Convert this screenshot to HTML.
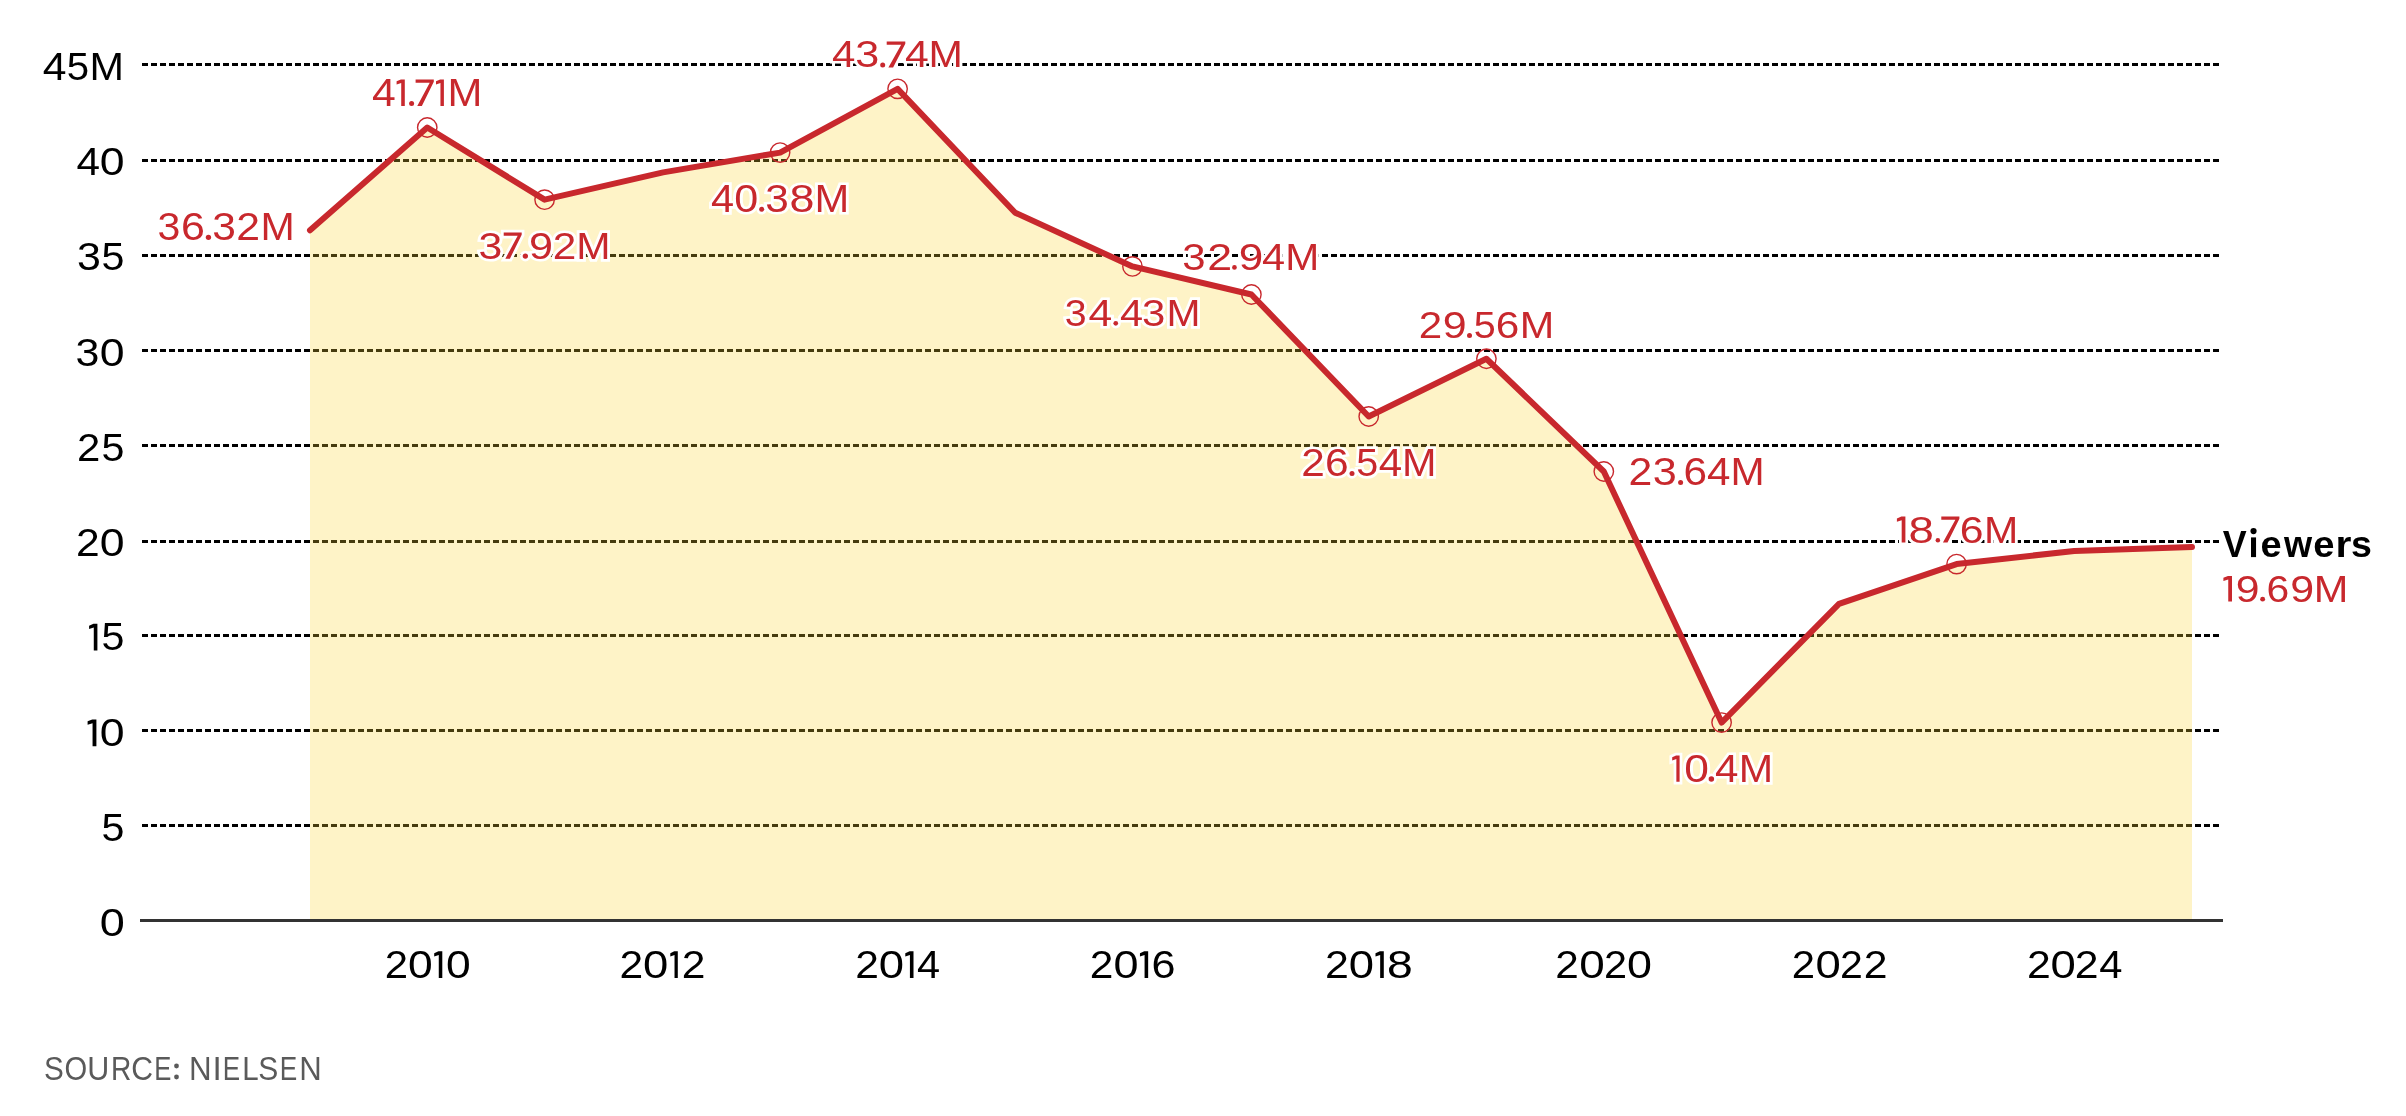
<!DOCTYPE html><html><head><meta charset="utf-8"><title>Chart</title><style>html,body{margin:0;padding:0;background:#fff;}body{width:2406px;height:1116px;overflow:hidden;}svg{display:block;will-change:transform;font-family:"Liberation Sans",sans-serif;}</style></head><body>
<svg width="2406" height="1116" viewBox="0 0 2406 1116">
<rect width="2406" height="1116" fill="#fff"/>
<line x1="142" y1="64.5" x2="1201" y2="64.5" stroke="#000" stroke-width="3" stroke-dasharray="6 3"/>
<rect x="1204" y="63" width="7" height="3" fill="#000"/>
<line x1="1214" y1="64.5" x2="2219" y2="64.5" stroke="#000" stroke-width="3" stroke-dasharray="6 3"/>
<line x1="142" y1="160.5" x2="1201" y2="160.5" stroke="#000" stroke-width="3" stroke-dasharray="6 3"/>
<rect x="1204" y="159" width="7" height="3" fill="#000"/>
<line x1="1214" y1="160.5" x2="2219" y2="160.5" stroke="#000" stroke-width="3" stroke-dasharray="6 3"/>
<line x1="142" y1="255.5" x2="1201" y2="255.5" stroke="#000" stroke-width="3" stroke-dasharray="6 3"/>
<rect x="1204" y="254" width="7" height="3" fill="#000"/>
<line x1="1214" y1="255.5" x2="2219" y2="255.5" stroke="#000" stroke-width="3" stroke-dasharray="6 3"/>
<line x1="142" y1="350.5" x2="1201" y2="350.5" stroke="#000" stroke-width="3" stroke-dasharray="6 3"/>
<rect x="1204" y="349" width="7" height="3" fill="#000"/>
<line x1="1214" y1="350.5" x2="2219" y2="350.5" stroke="#000" stroke-width="3" stroke-dasharray="6 3"/>
<line x1="142" y1="445.5" x2="1201" y2="445.5" stroke="#000" stroke-width="3" stroke-dasharray="6 3"/>
<rect x="1204" y="444" width="7" height="3" fill="#000"/>
<line x1="1214" y1="445.5" x2="2219" y2="445.5" stroke="#000" stroke-width="3" stroke-dasharray="6 3"/>
<line x1="142" y1="541.5" x2="1201" y2="541.5" stroke="#000" stroke-width="3" stroke-dasharray="6 3"/>
<rect x="1204" y="540" width="7" height="3" fill="#000"/>
<line x1="1214" y1="541.5" x2="2219" y2="541.5" stroke="#000" stroke-width="3" stroke-dasharray="6 3"/>
<line x1="142" y1="635.5" x2="1201" y2="635.5" stroke="#000" stroke-width="3" stroke-dasharray="6 3"/>
<rect x="1204" y="634" width="7" height="3" fill="#000"/>
<line x1="1214" y1="635.5" x2="2219" y2="635.5" stroke="#000" stroke-width="3" stroke-dasharray="6 3"/>
<line x1="142" y1="730.5" x2="1201" y2="730.5" stroke="#000" stroke-width="3" stroke-dasharray="6 3"/>
<rect x="1204" y="729" width="7" height="3" fill="#000"/>
<line x1="1214" y1="730.5" x2="2219" y2="730.5" stroke="#000" stroke-width="3" stroke-dasharray="6 3"/>
<line x1="142" y1="825.5" x2="1201" y2="825.5" stroke="#000" stroke-width="3" stroke-dasharray="6 3"/>
<rect x="1204" y="824" width="7" height="3" fill="#000"/>
<line x1="1214" y1="825.5" x2="2219" y2="825.5" stroke="#000" stroke-width="3" stroke-dasharray="6 3"/>
<polygon points="310.0,919 310.00,230.20 427.25,127.50 544.60,199.65 663.10,172.40 780.10,152.60 897.60,88.85 1015.20,212.70 1132.45,266.45 1251.40,294.50 1368.70,416.50 1486.40,358.75 1603.80,471.50 1721.60,722.60 1839.00,603.80 1956.60,564.10 2074.20,550.90 2192.00,547.00 2192.0,919" fill="#fad437" fill-opacity="0.28"/>
<rect x="140" y="919" width="2083" height="3" fill="#333"/>
<polyline points="310.00,230.20 427.25,127.50 544.60,199.65 663.10,172.40 780.10,152.60 897.60,88.85 1015.20,212.70 1132.45,266.45 1251.40,294.50 1368.70,416.50 1486.40,358.75 1603.80,471.50 1721.60,722.60 1839.00,603.80 1956.60,564.10 2074.20,550.90 2192.00,547.00" fill="none" stroke="#c8282d" stroke-width="6" stroke-linejoin="round" stroke-linecap="round"/>
<circle cx="427.25" cy="127.50" r="9.7" fill="none" stroke="#c8282d" stroke-width="1.4"/>
<circle cx="544.60" cy="199.65" r="9.7" fill="none" stroke="#c8282d" stroke-width="1.4"/>
<circle cx="780.10" cy="152.60" r="9.7" fill="none" stroke="#c8282d" stroke-width="1.4"/>
<circle cx="897.60" cy="88.85" r="9.7" fill="none" stroke="#c8282d" stroke-width="1.4"/>
<circle cx="1132.45" cy="266.45" r="9.7" fill="none" stroke="#c8282d" stroke-width="1.4"/>
<circle cx="1251.40" cy="294.50" r="9.7" fill="none" stroke="#c8282d" stroke-width="1.4"/>
<circle cx="1368.70" cy="416.50" r="9.7" fill="none" stroke="#c8282d" stroke-width="1.4"/>
<circle cx="1486.40" cy="358.75" r="9.7" fill="none" stroke="#c8282d" stroke-width="1.4"/>
<circle cx="1603.80" cy="471.50" r="9.7" fill="none" stroke="#c8282d" stroke-width="1.4"/>
<circle cx="1721.60" cy="722.60" r="9.7" fill="none" stroke="#c8282d" stroke-width="1.4"/>
<circle cx="1956.60" cy="564.10" r="9.7" fill="none" stroke="#c8282d" stroke-width="1.4"/>
<g><text transform="matrix(1.0805 0 0 1.0119 157.59 239.92)" font-size="38" font-weight="400" fill="#fff" stroke="#fff" stroke-width="5.26">3</text>
<text transform="matrix(1.1308 0 0 1.0119 181.00 239.92)" font-size="38" font-weight="400" fill="#fff" stroke="#fff" stroke-width="5.13">6</text>
<circle cx="208.45" cy="237.35" r="2.65" fill="#fff" stroke="#fff" stroke-width="5.5"/>
<text transform="matrix(1.1194 0 0 1.0119 212.33 239.92)" font-size="38" font-weight="400" fill="#fff" stroke="#fff" stroke-width="5.16">3</text>
<text transform="matrix(1.1268 0 0 1.0119 236.14 239.92)" font-size="38" font-weight="400" fill="#fff" stroke="#fff" stroke-width="5.14">2</text>
<text transform="matrix(1.0822 0 0 1.0119 260.42 239.92)" font-size="38" font-weight="400" fill="#fff" stroke="#fff" stroke-width="5.25">M</text>
<text transform="matrix(1.1236 0 0 1.0187 371.91 105.90)" font-size="38" font-weight="400" fill="#fff" stroke="#fff" stroke-width="5.13">4</text>
<path d="M396.60 81.33 L400.91 79.40 L404.80 79.40 L404.80 105.90 L401.22 105.90 L401.22 83.08 L396.60 84.62Z" fill="#fff" stroke="#fff" stroke-width="5.5"/>
<circle cx="411.60" cy="103.40" r="2.50" fill="#fff" stroke="#fff" stroke-width="5.5"/>
<path d="M415.60 79.40 L433.80 79.40 L433.80 81.68 L421.86 105.90 L417.26 105.90 L429.74 82.66 L415.60 82.66Z" fill="#fff" stroke="#fff" stroke-width="5.5"/>
<path d="M436.00 81.33 L440.16 79.40 L443.90 79.40 L443.90 105.90 L440.46 105.90 L440.46 83.08 L436.00 84.62Z" fill="#fff" stroke="#fff" stroke-width="5.5"/>
<text transform="matrix(1.1019 0 0 1.0187 447.56 105.90)" font-size="38" font-weight="400" fill="#fff" stroke="#fff" stroke-width="5.19">M</text>
<text transform="matrix(1.1250 0 0 0.9933 478.62 258.62)" font-size="38" font-weight="400" fill="#fff" stroke="#fff" stroke-width="5.19">3</text>
<path d="M503.70 232.60 L521.70 232.60 L521.70 234.84 L509.89 258.70 L505.34 258.70 L517.69 235.81 L503.70 235.81Z" fill="#fff" stroke="#fff" stroke-width="5.5"/>
<circle cx="525.35" cy="256.05" r="2.65" fill="#fff" stroke="#fff" stroke-width="5.5"/>
<text transform="matrix(1.1358 0 0 0.9933 529.06 258.62)" font-size="38" font-weight="400" fill="#fff" stroke="#fff" stroke-width="5.17">9</text>
<text transform="matrix(1.1152 0 0 0.9933 552.66 258.62)" font-size="38" font-weight="400" fill="#fff" stroke="#fff" stroke-width="5.22">2</text>
<text transform="matrix(1.0822 0 0 0.9933 576.32 258.62)" font-size="38" font-weight="400" fill="#fff" stroke="#fff" stroke-width="5.30">M</text>
<text transform="matrix(1.0922 0 0 1.0007 711.04 211.62)" font-size="38" font-weight="400" fill="#fff" stroke="#fff" stroke-width="5.26">4</text>
<text transform="matrix(1.1353 0 0 1.0007 734.21 211.62)" font-size="38" font-weight="400" fill="#fff" stroke="#fff" stroke-width="5.15">0</text>
<circle cx="761.70" cy="209.20" r="2.50" fill="#fff" stroke="#fff" stroke-width="5.5"/>
<text transform="matrix(1.1139 0 0 1.0007 765.14 211.62)" font-size="38" font-weight="400" fill="#fff" stroke="#fff" stroke-width="5.20">3</text>
<text transform="matrix(1.1796 0 0 1.0007 789.43 211.62)" font-size="38" font-weight="400" fill="#fff" stroke="#fff" stroke-width="5.05">8</text>
<text transform="matrix(1.0980 0 0 1.0007 814.57 211.62)" font-size="38" font-weight="400" fill="#fff" stroke="#fff" stroke-width="5.24">M</text>
<text transform="matrix(1.1079 0 0 0.9896 831.93 67.42)" font-size="38" font-weight="400" fill="#fff" stroke="#fff" stroke-width="5.24">4</text>
<text transform="matrix(1.1362 0 0 0.9896 855.21 67.42)" font-size="38" font-weight="400" fill="#fff" stroke="#fff" stroke-width="5.17">3</text>
<circle cx="882.70" cy="65.00" r="2.50" fill="#fff" stroke="#fff" stroke-width="5.5"/>
<path d="M886.70 41.50 L905.30 41.50 L905.30 43.74 L893.10 67.50 L888.39 67.50 L901.15 44.70 L886.70 44.70Z" fill="#fff" stroke="#fff" stroke-width="5.5"/>
<text transform="matrix(1.1236 0 0 0.9896 905.01 67.42)" font-size="38" font-weight="400" fill="#fff" stroke="#fff" stroke-width="5.21">4</text>
<text transform="matrix(1.0862 0 0 0.9896 928.41 67.42)" font-size="38" font-weight="400" fill="#fff" stroke="#fff" stroke-width="5.30">M</text>
<text transform="matrix(1.0359 0 0 0.9933 1064.76 325.62)" font-size="38" font-weight="400" fill="#fff" stroke="#fff" stroke-width="5.42">3</text>
<text transform="matrix(1.1236 0 0 0.9933 1088.61 325.62)" font-size="38" font-weight="400" fill="#fff" stroke="#fff" stroke-width="5.20">4</text>
<circle cx="1115.75" cy="323.35" r="2.35" fill="#fff" stroke="#fff" stroke-width="5.5"/>
<text transform="matrix(1.0922 0 0 0.9933 1120.04 325.62)" font-size="38" font-weight="400" fill="#fff" stroke="#fff" stroke-width="5.27">4</text>
<text transform="matrix(1.1027 0 0 0.9933 1142.06 325.62)" font-size="38" font-weight="400" fill="#fff" stroke="#fff" stroke-width="5.25">3</text>
<text transform="matrix(1.0743 0 0 0.9933 1166.54 325.62)" font-size="38" font-weight="400" fill="#fff" stroke="#fff" stroke-width="5.32">M</text>
<text transform="matrix(1.1027 0 0 0.9896 1182.16 269.72)" font-size="38" font-weight="400" fill="#fff" stroke="#fff" stroke-width="5.26">3</text>
<text transform="matrix(1.1788 0 0 0.9896 1207.14 269.72)" font-size="38" font-weight="400" fill="#fff" stroke="#fff" stroke-width="5.07">2</text>
<circle cx="1234.45" cy="267.45" r="2.35" fill="#fff" stroke="#fff" stroke-width="5.5"/>
<text transform="matrix(1.1587 0 0 0.9896 1238.82 269.72)" font-size="38" font-weight="400" fill="#fff" stroke="#fff" stroke-width="5.12">9</text>
<text transform="matrix(1.0922 0 0 0.9896 1262.04 269.72)" font-size="38" font-weight="400" fill="#fff" stroke="#fff" stroke-width="5.28">4</text>
<text transform="matrix(1.0743 0 0 0.9896 1285.24 269.72)" font-size="38" font-weight="400" fill="#fff" stroke="#fff" stroke-width="5.33">M</text>
<text transform="matrix(1.1152 0 0 1.0119 1301.16 475.82)" font-size="38" font-weight="400" fill="#fff" stroke="#fff" stroke-width="5.17">2</text>
<text transform="matrix(1.1194 0 0 1.0119 1324.93 475.82)" font-size="38" font-weight="400" fill="#fff" stroke="#fff" stroke-width="5.16">6</text>
<circle cx="1352.00" cy="473.40" r="2.50" fill="#fff" stroke="#fff" stroke-width="5.5"/>
<text transform="matrix(1.0394 0 0 1.0119 1356.30 475.82)" font-size="38" font-weight="400" fill="#fff" stroke="#fff" stroke-width="5.36">5</text>
<text transform="matrix(1.1079 0 0 1.0119 1378.63 475.82)" font-size="38" font-weight="400" fill="#fff" stroke="#fff" stroke-width="5.19">4</text>
<text transform="matrix(1.0901 0 0 1.0119 1401.89 475.82)" font-size="38" font-weight="400" fill="#fff" stroke="#fff" stroke-width="5.23">M</text>
<text transform="matrix(1.1095 0 0 0.9896 1418.68 337.92)" font-size="38" font-weight="400" fill="#fff" stroke="#fff" stroke-width="5.24">2</text>
<text transform="matrix(1.1301 0 0 0.9896 1442.67 337.92)" font-size="38" font-weight="400" fill="#fff" stroke="#fff" stroke-width="5.19">9</text>
<circle cx="1469.50" cy="335.50" r="2.50" fill="#fff" stroke="#fff" stroke-width="5.5"/>
<text transform="matrix(1.0394 0 0 0.9896 1473.80 337.92)" font-size="38" font-weight="400" fill="#fff" stroke="#fff" stroke-width="5.42">5</text>
<text transform="matrix(1.1137 0 0 0.9896 1495.74 337.92)" font-size="38" font-weight="400" fill="#fff" stroke="#fff" stroke-width="5.23">6</text>
<text transform="matrix(1.0901 0 0 0.9896 1519.79 337.92)" font-size="38" font-weight="400" fill="#fff" stroke="#fff" stroke-width="5.29">M</text>
<text transform="matrix(1.1268 0 0 1.0156 1628.54 484.91)" font-size="38" font-weight="400" fill="#fff" stroke="#fff" stroke-width="5.13">2</text>
<text transform="matrix(1.1362 0 0 1.0156 1652.71 484.91)" font-size="38" font-weight="400" fill="#fff" stroke="#fff" stroke-width="5.11">3</text>
<circle cx="1680.60" cy="482.50" r="2.50" fill="#fff" stroke="#fff" stroke-width="5.5"/>
<text transform="matrix(1.1137 0 0 1.0156 1683.44 484.91)" font-size="38" font-weight="400" fill="#fff" stroke="#fff" stroke-width="5.17">6</text>
<text transform="matrix(1.1079 0 0 1.0156 1707.03 484.91)" font-size="38" font-weight="400" fill="#fff" stroke="#fff" stroke-width="5.18">4</text>
<text transform="matrix(1.0783 0 0 1.0156 1730.43 484.91)" font-size="38" font-weight="400" fill="#fff" stroke="#fff" stroke-width="5.25">M</text>
<path d="M1672.20 757.33 L1676.09 755.40 L1679.60 755.40 L1679.60 781.80 L1676.37 781.80 L1676.37 759.07 L1672.20 760.60Z" fill="#fff" stroke="#fff" stroke-width="5.5"/>
<text transform="matrix(1.1684 0 0 1.0052 1684.26 781.72)" font-size="38" font-weight="400" fill="#fff" stroke="#fff" stroke-width="5.06">0</text>
<circle cx="1711.35" cy="779.05" r="2.75" fill="#fff" stroke="#fff" stroke-width="5.5"/>
<text transform="matrix(1.1079 0 0 1.0052 1715.03 781.72)" font-size="38" font-weight="400" fill="#fff" stroke="#fff" stroke-width="5.21">4</text>
<text transform="matrix(1.0862 0 0 1.0052 1738.71 781.72)" font-size="38" font-weight="400" fill="#fff" stroke="#fff" stroke-width="5.26">M</text>
<path d="M1896.90 518.41 L1901.37 516.50 L1905.40 516.50 L1905.40 542.60 L1901.69 542.60 L1901.69 520.13 L1896.90 521.64Z" fill="#fff" stroke="#fff" stroke-width="5.5"/>
<text transform="matrix(1.2020 0 0 0.9933 1908.60 542.52)" font-size="38" font-weight="400" fill="#fff" stroke="#fff" stroke-width="5.01">8</text>
<circle cx="1937.85" cy="540.35" r="2.25" fill="#fff" stroke="#fff" stroke-width="5.5"/>
<path d="M1941.30 516.50 L1959.40 516.50 L1959.40 518.74 L1947.53 542.60 L1942.95 542.60 L1955.36 519.71 L1941.30 519.71Z" fill="#fff" stroke="#fff" stroke-width="5.5"/>
<text transform="matrix(1.1251 0 0 0.9933 1959.72 542.52)" font-size="38" font-weight="400" fill="#fff" stroke="#fff" stroke-width="5.19">6</text>
<text transform="matrix(1.0822 0 0 0.9933 1983.92 542.52)" font-size="38" font-weight="400" fill="#fff" stroke="#fff" stroke-width="5.30">M</text>
<path d="M2223.40 577.78 L2227.92 575.90 L2232.00 575.90 L2232.00 601.60 L2228.25 601.60 L2228.25 579.47 L2223.40 580.96Z" fill="#fff" stroke="#fff" stroke-width="5.5"/>
<text transform="matrix(1.1244 0 0 0.9785 2235.78 601.53)" font-size="38" font-weight="400" fill="#fff" stroke="#fff" stroke-width="5.23">9</text>
<circle cx="2262.65" cy="599.15" r="2.45" fill="#fff" stroke="#fff" stroke-width="5.5"/>
<text transform="matrix(1.0737 0 0 0.9785 2266.62 601.53)" font-size="38" font-weight="400" fill="#fff" stroke="#fff" stroke-width="5.36">6</text>
<text transform="matrix(1.1301 0 0 0.9785 2290.37 601.53)" font-size="38" font-weight="400" fill="#fff" stroke="#fff" stroke-width="5.22">9</text>
<text transform="matrix(1.0940 0 0 0.9785 2313.68 601.53)" font-size="38" font-weight="400" fill="#fff" stroke="#fff" stroke-width="5.31">M</text></g>
<g><text transform="matrix(1.1236 0 0 1.0117 42.71 79.62)" font-size="38" font-weight="400" fill="#000">4</text>
<text transform="matrix(1.0562 0 0 1.0117 66.67 79.62)" font-size="38" font-weight="400" fill="#000">5</text>
<text transform="matrix(1.0901 0 0 1.0117 89.49 79.62)" font-size="38" font-weight="400" fill="#000">M</text>
<text transform="matrix(1.1131 0 0 0.9978 76.62 174.72)" font-size="38" font-weight="400" fill="#000">4</text>
<text transform="matrix(1.1739 0 0 0.9978 99.65 174.72)" font-size="38" font-weight="400" fill="#000">0</text>
<text transform="matrix(1.1306 0 0 1.0156 76.92 270.11)" font-size="38" font-weight="400" fill="#000">3</text>
<text transform="matrix(1.0841 0 0 1.0156 101.53 270.11)" font-size="38" font-weight="400" fill="#000">5</text>
<text transform="matrix(1.1306 0 0 1.0230 75.62 366.21)" font-size="38" font-weight="400" fill="#000">3</text>
<text transform="matrix(1.1739 0 0 1.0230 99.65 366.21)" font-size="38" font-weight="400" fill="#000">0</text>
<text transform="matrix(1.1037 0 0 1.0119 76.99 461.02)" font-size="38" font-weight="400" fill="#000">2</text>
<text transform="matrix(1.0841 0 0 1.0119 101.53 461.02)" font-size="38" font-weight="400" fill="#000">5</text>
<text transform="matrix(1.1210 0 0 1.0230 76.05 556.21)" font-size="38" font-weight="400" fill="#000">2</text>
<text transform="matrix(1.1739 0 0 1.0230 99.65 556.21)" font-size="38" font-weight="400" fill="#000">0</text>
<path d="M89.10 625.74 L93.47 623.80 L97.40 623.80 L97.40 650.40 L93.78 650.40 L93.78 627.50 L89.10 629.04Z" fill="#000"/>
<text transform="matrix(1.0841 0 0 1.0150 101.53 650.01)" font-size="38" font-weight="400" fill="#000">5</text>
<path d="M87.60 721.36 L92.23 719.40 L96.40 719.40 L96.40 746.30 L92.56 746.30 L92.56 723.14 L87.60 724.70Z" fill="#000"/>
<text transform="matrix(1.1739 0 0 1.0237 99.65 746.21)" font-size="38" font-weight="400" fill="#000">0</text>
<text transform="matrix(1.0841 0 0 1.0376 101.53 841.31)" font-size="38" font-weight="400" fill="#000">5</text>
<text transform="matrix(1.1849 0 0 1.0015 99.74 935.62)" font-size="38" font-weight="400" fill="#000">0</text>
<text transform="matrix(1.1037 0 0 1.0119 384.79 977.82)" font-size="38" font-weight="400" fill="#000">2</text>
<text transform="matrix(1.1684 0 0 1.0119 408.06 977.82)" font-size="38" font-weight="400" fill="#000">0</text>
<path d="M434.20 953.24 L438.46 951.30 L442.30 951.30 L442.30 977.90 L438.77 977.90 L438.77 955.00 L434.20 956.54Z" fill="#000"/>
<text transform="matrix(1.1684 0 0 1.0119 445.96 977.82)" font-size="38" font-weight="400" fill="#000">0</text>
<text transform="matrix(1.1210 0 0 1.0119 619.55 977.82)" font-size="38" font-weight="400" fill="#000">2</text>
<text transform="matrix(1.1959 0 0 1.0119 643.12 977.82)" font-size="38" font-weight="400" fill="#000">0</text>
<path d="M670.30 953.24 L674.25 951.30 L677.80 951.30 L677.80 977.90 L674.53 977.90 L674.53 955.00 L670.30 956.54Z" fill="#000"/>
<text transform="matrix(1.1210 0 0 1.0119 681.65 977.82)" font-size="38" font-weight="400" fill="#000">2</text>
<text transform="matrix(1.1210 0 0 1.0119 855.25 977.82)" font-size="38" font-weight="400" fill="#000">2</text>
<text transform="matrix(1.1959 0 0 1.0119 878.82 977.82)" font-size="38" font-weight="400" fill="#000">0</text>
<path d="M905.30 953.24 L909.61 951.30 L913.50 951.30 L913.50 977.90 L909.92 977.90 L909.92 955.00 L905.30 956.54Z" fill="#000"/>
<text transform="matrix(1.0922 0 0 1.0119 917.04 977.82)" font-size="38" font-weight="400" fill="#000">4</text>
<text transform="matrix(1.1188 0 0 1.0119 1089.86 977.82)" font-size="38" font-weight="400" fill="#000">2</text>
<text transform="matrix(1.1844 0 0 1.0119 1113.45 977.82)" font-size="38" font-weight="400" fill="#000">0</text>
<path d="M1139.95 953.24 L1144.27 951.30 L1148.16 951.30 L1148.16 977.90 L1144.58 977.90 L1144.58 955.00 L1139.95 956.54Z" fill="#000"/>
<text transform="matrix(1.1347 0 0 1.0119 1151.43 977.82)" font-size="38" font-weight="400" fill="#000">6</text>
<text transform="matrix(1.1293 0 0 1.0119 1324.94 977.82)" font-size="38" font-weight="400" fill="#000">2</text>
<text transform="matrix(1.1955 0 0 1.0119 1348.75 977.82)" font-size="38" font-weight="400" fill="#000">0</text>
<path d="M1375.50 953.24 L1379.86 951.30 L1383.79 951.30 L1383.79 977.90 L1380.17 977.90 L1380.17 955.00 L1375.50 956.54Z" fill="#000"/>
<text transform="matrix(1.2184 0 0 1.0119 1387.08 977.82)" font-size="38" font-weight="400" fill="#000">8</text>
<text transform="matrix(1.1145 0 0 1.0119 1555.17 977.82)" font-size="38" font-weight="400" fill="#000">2</text>
<text transform="matrix(1.2076 0 0 1.0119 1579.33 977.82)" font-size="38" font-weight="400" fill="#000">0</text>
<text transform="matrix(1.0911 0 0 1.0119 1603.98 977.82)" font-size="38" font-weight="400" fill="#000">2</text>
<text transform="matrix(1.1798 0 0 1.0119 1627.04 977.82)" font-size="38" font-weight="400" fill="#000">0</text>
<text transform="matrix(1.1037 0 0 1.0119 1791.69 977.82)" font-size="38" font-weight="400" fill="#000">2</text>
<text transform="matrix(1.1959 0 0 1.0119 1815.62 977.82)" font-size="38" font-weight="400" fill="#000">0</text>
<text transform="matrix(1.0806 0 0 1.0119 1840.03 977.82)" font-size="38" font-weight="400" fill="#000">2</text>
<text transform="matrix(1.1268 0 0 1.0119 1863.84 977.82)" font-size="38" font-weight="400" fill="#000">2</text>
<text transform="matrix(1.1268 0 0 1.0119 2026.94 977.82)" font-size="38" font-weight="400" fill="#000">2</text>
<text transform="matrix(1.1959 0 0 1.0119 2050.52 977.82)" font-size="38" font-weight="400" fill="#000">0</text>
<text transform="matrix(1.1268 0 0 1.0119 2074.84 977.82)" font-size="38" font-weight="400" fill="#000">2</text>
<text transform="matrix(1.0974 0 0 1.0119 2099.24 977.82)" font-size="38" font-weight="400" fill="#000">4</text>
<text transform="matrix(1.0805 0 0 1.0119 157.59 239.92)" font-size="38" font-weight="400" fill="#c8282d">3</text>
<text transform="matrix(1.1308 0 0 1.0119 181.00 239.92)" font-size="38" font-weight="400" fill="#c8282d">6</text>
<circle cx="208.45" cy="237.35" r="2.65" fill="#c8282d"/>
<text transform="matrix(1.1194 0 0 1.0119 212.33 239.92)" font-size="38" font-weight="400" fill="#c8282d">3</text>
<text transform="matrix(1.1268 0 0 1.0119 236.14 239.92)" font-size="38" font-weight="400" fill="#c8282d">2</text>
<text transform="matrix(1.0822 0 0 1.0119 260.42 239.92)" font-size="38" font-weight="400" fill="#c8282d">M</text>
<text transform="matrix(1.1236 0 0 1.0187 371.91 105.90)" font-size="38" font-weight="400" fill="#c8282d">4</text>
<path d="M396.60 81.33 L400.91 79.40 L404.80 79.40 L404.80 105.90 L401.22 105.90 L401.22 83.08 L396.60 84.62Z" fill="#c8282d"/>
<circle cx="411.60" cy="103.40" r="2.50" fill="#c8282d"/>
<path d="M415.60 79.40 L433.80 79.40 L433.80 81.68 L421.86 105.90 L417.26 105.90 L429.74 82.66 L415.60 82.66Z" fill="#c8282d"/>
<path d="M436.00 81.33 L440.16 79.40 L443.90 79.40 L443.90 105.90 L440.46 105.90 L440.46 83.08 L436.00 84.62Z" fill="#c8282d"/>
<text transform="matrix(1.1019 0 0 1.0187 447.56 105.90)" font-size="38" font-weight="400" fill="#c8282d">M</text>
<text transform="matrix(1.1250 0 0 0.9933 478.62 258.62)" font-size="38" font-weight="400" fill="#c8282d">3</text>
<path d="M503.70 232.60 L521.70 232.60 L521.70 234.84 L509.89 258.70 L505.34 258.70 L517.69 235.81 L503.70 235.81Z" fill="#c8282d"/>
<circle cx="525.35" cy="256.05" r="2.65" fill="#c8282d"/>
<text transform="matrix(1.1358 0 0 0.9933 529.06 258.62)" font-size="38" font-weight="400" fill="#c8282d">9</text>
<text transform="matrix(1.1152 0 0 0.9933 552.66 258.62)" font-size="38" font-weight="400" fill="#c8282d">2</text>
<text transform="matrix(1.0822 0 0 0.9933 576.32 258.62)" font-size="38" font-weight="400" fill="#c8282d">M</text>
<text transform="matrix(1.0922 0 0 1.0007 711.04 211.62)" font-size="38" font-weight="400" fill="#c8282d">4</text>
<text transform="matrix(1.1353 0 0 1.0007 734.21 211.62)" font-size="38" font-weight="400" fill="#c8282d">0</text>
<circle cx="761.70" cy="209.20" r="2.50" fill="#c8282d"/>
<text transform="matrix(1.1139 0 0 1.0007 765.14 211.62)" font-size="38" font-weight="400" fill="#c8282d">3</text>
<text transform="matrix(1.1796 0 0 1.0007 789.43 211.62)" font-size="38" font-weight="400" fill="#c8282d">8</text>
<text transform="matrix(1.0980 0 0 1.0007 814.57 211.62)" font-size="38" font-weight="400" fill="#c8282d">M</text>
<text transform="matrix(1.1079 0 0 0.9896 831.93 67.42)" font-size="38" font-weight="400" fill="#c8282d">4</text>
<text transform="matrix(1.1362 0 0 0.9896 855.21 67.42)" font-size="38" font-weight="400" fill="#c8282d">3</text>
<circle cx="882.70" cy="65.00" r="2.50" fill="#c8282d"/>
<path d="M886.70 41.50 L905.30 41.50 L905.30 43.74 L893.10 67.50 L888.39 67.50 L901.15 44.70 L886.70 44.70Z" fill="#c8282d"/>
<text transform="matrix(1.1236 0 0 0.9896 905.01 67.42)" font-size="38" font-weight="400" fill="#c8282d">4</text>
<text transform="matrix(1.0862 0 0 0.9896 928.41 67.42)" font-size="38" font-weight="400" fill="#c8282d">M</text>
<text transform="matrix(1.0359 0 0 0.9933 1064.76 325.62)" font-size="38" font-weight="400" fill="#c8282d">3</text>
<text transform="matrix(1.1236 0 0 0.9933 1088.61 325.62)" font-size="38" font-weight="400" fill="#c8282d">4</text>
<circle cx="1115.75" cy="323.35" r="2.35" fill="#c8282d"/>
<text transform="matrix(1.0922 0 0 0.9933 1120.04 325.62)" font-size="38" font-weight="400" fill="#c8282d">4</text>
<text transform="matrix(1.1027 0 0 0.9933 1142.06 325.62)" font-size="38" font-weight="400" fill="#c8282d">3</text>
<text transform="matrix(1.0743 0 0 0.9933 1166.54 325.62)" font-size="38" font-weight="400" fill="#c8282d">M</text>
<text transform="matrix(1.1027 0 0 0.9896 1182.16 269.72)" font-size="38" font-weight="400" fill="#c8282d">3</text>
<text transform="matrix(1.1788 0 0 0.9896 1207.14 269.72)" font-size="38" font-weight="400" fill="#c8282d">2</text>
<circle cx="1234.45" cy="267.45" r="2.35" fill="#c8282d"/>
<text transform="matrix(1.1587 0 0 0.9896 1238.82 269.72)" font-size="38" font-weight="400" fill="#c8282d">9</text>
<text transform="matrix(1.0922 0 0 0.9896 1262.04 269.72)" font-size="38" font-weight="400" fill="#c8282d">4</text>
<text transform="matrix(1.0743 0 0 0.9896 1285.24 269.72)" font-size="38" font-weight="400" fill="#c8282d">M</text>
<text transform="matrix(1.1152 0 0 1.0119 1301.16 475.82)" font-size="38" font-weight="400" fill="#c8282d">2</text>
<text transform="matrix(1.1194 0 0 1.0119 1324.93 475.82)" font-size="38" font-weight="400" fill="#c8282d">6</text>
<circle cx="1352.00" cy="473.40" r="2.50" fill="#c8282d"/>
<text transform="matrix(1.0394 0 0 1.0119 1356.30 475.82)" font-size="38" font-weight="400" fill="#c8282d">5</text>
<text transform="matrix(1.1079 0 0 1.0119 1378.63 475.82)" font-size="38" font-weight="400" fill="#c8282d">4</text>
<text transform="matrix(1.0901 0 0 1.0119 1401.89 475.82)" font-size="38" font-weight="400" fill="#c8282d">M</text>
<text transform="matrix(1.1095 0 0 0.9896 1418.68 337.92)" font-size="38" font-weight="400" fill="#c8282d">2</text>
<text transform="matrix(1.1301 0 0 0.9896 1442.67 337.92)" font-size="38" font-weight="400" fill="#c8282d">9</text>
<circle cx="1469.50" cy="335.50" r="2.50" fill="#c8282d"/>
<text transform="matrix(1.0394 0 0 0.9896 1473.80 337.92)" font-size="38" font-weight="400" fill="#c8282d">5</text>
<text transform="matrix(1.1137 0 0 0.9896 1495.74 337.92)" font-size="38" font-weight="400" fill="#c8282d">6</text>
<text transform="matrix(1.0901 0 0 0.9896 1519.79 337.92)" font-size="38" font-weight="400" fill="#c8282d">M</text>
<text transform="matrix(1.1268 0 0 1.0156 1628.54 484.91)" font-size="38" font-weight="400" fill="#c8282d">2</text>
<text transform="matrix(1.1362 0 0 1.0156 1652.71 484.91)" font-size="38" font-weight="400" fill="#c8282d">3</text>
<circle cx="1680.60" cy="482.50" r="2.50" fill="#c8282d"/>
<text transform="matrix(1.1137 0 0 1.0156 1683.44 484.91)" font-size="38" font-weight="400" fill="#c8282d">6</text>
<text transform="matrix(1.1079 0 0 1.0156 1707.03 484.91)" font-size="38" font-weight="400" fill="#c8282d">4</text>
<text transform="matrix(1.0783 0 0 1.0156 1730.43 484.91)" font-size="38" font-weight="400" fill="#c8282d">M</text>
<path d="M1672.20 757.33 L1676.09 755.40 L1679.60 755.40 L1679.60 781.80 L1676.37 781.80 L1676.37 759.07 L1672.20 760.60Z" fill="#c8282d"/>
<text transform="matrix(1.1684 0 0 1.0052 1684.26 781.72)" font-size="38" font-weight="400" fill="#c8282d">0</text>
<circle cx="1711.35" cy="779.05" r="2.75" fill="#c8282d"/>
<text transform="matrix(1.1079 0 0 1.0052 1715.03 781.72)" font-size="38" font-weight="400" fill="#c8282d">4</text>
<text transform="matrix(1.0862 0 0 1.0052 1738.71 781.72)" font-size="38" font-weight="400" fill="#c8282d">M</text>
<path d="M1896.90 518.41 L1901.37 516.50 L1905.40 516.50 L1905.40 542.60 L1901.69 542.60 L1901.69 520.13 L1896.90 521.64Z" fill="#c8282d"/>
<text transform="matrix(1.2020 0 0 0.9933 1908.60 542.52)" font-size="38" font-weight="400" fill="#c8282d">8</text>
<circle cx="1937.85" cy="540.35" r="2.25" fill="#c8282d"/>
<path d="M1941.30 516.50 L1959.40 516.50 L1959.40 518.74 L1947.53 542.60 L1942.95 542.60 L1955.36 519.71 L1941.30 519.71Z" fill="#c8282d"/>
<text transform="matrix(1.1251 0 0 0.9933 1959.72 542.52)" font-size="38" font-weight="400" fill="#c8282d">6</text>
<text transform="matrix(1.0822 0 0 0.9933 1983.92 542.52)" font-size="38" font-weight="400" fill="#c8282d">M</text>
<path d="M2223.40 577.78 L2227.92 575.90 L2232.00 575.90 L2232.00 601.60 L2228.25 601.60 L2228.25 579.47 L2223.40 580.96Z" fill="#c8282d"/>
<text transform="matrix(1.1244 0 0 0.9785 2235.78 601.53)" font-size="38" font-weight="400" fill="#c8282d">9</text>
<circle cx="2262.65" cy="599.15" r="2.45" fill="#c8282d"/>
<text transform="matrix(1.0737 0 0 0.9785 2266.62 601.53)" font-size="38" font-weight="400" fill="#c8282d">6</text>
<text transform="matrix(1.1301 0 0 0.9785 2290.37 601.53)" font-size="38" font-weight="400" fill="#c8282d">9</text>
<text transform="matrix(1.0940 0 0 0.9785 2313.68 601.53)" font-size="38" font-weight="400" fill="#c8282d">M</text>
<text transform="matrix(0.7810 0 0 0.8673 43.88 1079.67)" font-size="38" font-weight="400" fill="#5a5a5a">S</text>
<text transform="matrix(0.7674 0 0 0.8673 64.51 1079.67)" font-size="38" font-weight="400" fill="#5a5a5a">O</text>
<text transform="matrix(0.8020 0 0 0.8673 87.35 1079.67)" font-size="38" font-weight="400" fill="#5a5a5a">U</text>
<text transform="matrix(0.7407 0 0 0.8673 110.89 1079.67)" font-size="38" font-weight="400" fill="#5a5a5a">R</text>
<text transform="matrix(0.7937 0 0 0.8673 131.26 1079.67)" font-size="38" font-weight="400" fill="#5a5a5a">C</text>
<text transform="matrix(0.6752 0 0 0.8673 154.19 1079.67)" font-size="38" font-weight="400" fill="#5a5a5a">E</text>
<circle cx="176.50" cy="1077.00" r="2.40" fill="#5a5a5a"/>
<circle cx="176.50" cy="1066.00" r="2.40" fill="#5a5a5a"/>
<text transform="matrix(0.8247 0 0 0.8673 188.92 1079.67)" font-size="38" font-weight="400" fill="#5a5a5a">N</text>
<text transform="matrix(0.8781 0 0 0.8673 212.41 1079.67)" font-size="38" font-weight="400" fill="#5a5a5a">I</text>
<text transform="matrix(0.6849 0 0 0.8673 222.86 1079.67)" font-size="38" font-weight="400" fill="#5a5a5a">E</text>
<text transform="matrix(0.7763 0 0 0.8673 242.17 1079.67)" font-size="38" font-weight="400" fill="#5a5a5a">L</text>
<text transform="matrix(0.7902 0 0 0.8673 258.26 1079.67)" font-size="38" font-weight="400" fill="#5a5a5a">S</text>
<text transform="matrix(0.6898 0 0 0.8673 279.74 1079.67)" font-size="38" font-weight="400" fill="#5a5a5a">E</text>
<text transform="matrix(0.8200 0 0 0.8673 299.14 1079.67)" font-size="38" font-weight="400" fill="#5a5a5a">N</text>
<text transform="matrix(0.9441 0 0 0.9962 2222.69 557.12)" font-size="38" font-weight="700" fill="#000">V</text>
<rect x="2251.00" y="537.4" width="5.05" height="19.70" fill="#000"/>
<circle cx="2253.53" cy="531.1" r="3.1" fill="#000"/>
<text transform="matrix(0.9984 0 0 0.9962 2260.51 557.12)" font-size="38" font-weight="700" fill="#000">e</text>
<text transform="matrix(0.9515 0 0 0.9962 2283.96 557.12)" font-size="38" font-weight="700" fill="#000">w</text>
<text transform="matrix(1.0039 0 0 0.9962 2313.30 557.12)" font-size="38" font-weight="700" fill="#000">e</text>
<text transform="matrix(1.0774 0 0 0.9962 2335.39 557.12)" font-size="38" font-weight="700" fill="#000">r</text>
<text transform="matrix(0.9877 0 0 0.9962 2351.08 557.12)" font-size="38" font-weight="700" fill="#000">s</text></g>
</svg></body></html>
